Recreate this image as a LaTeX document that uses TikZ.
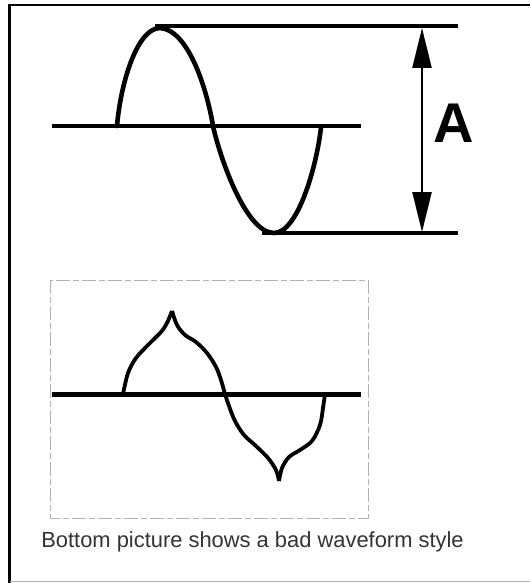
\documentclass[tikz,border=0pt]{standalone}
\usepackage{fontspec}
\setmainfont{Liberation Sans}
\usetikzlibrary{arrows.meta}
\begin{document}
\begin{tikzpicture}[x=1pt,y=-1pt,
  wave/.style={line width=4.6pt, line cap=round, line join=round},
  axisline/.style={line width=4.5pt},
  refline/.style={line width=4pt},
  badwave/.style={line width=3.8pt, line join=round},
  dimarrow/.style={line width=2.4pt, {Triangle[length=40pt,width=19pt]}-{Triangle[length=40pt,width=19pt]}},
  framebox/.style={draw=gray!60, line width=1pt, dash pattern=on 14pt off 3pt on 6pt off 3pt}
]
\useasboundingbox (0,0) rectangle (530,583);
% outer frame
\draw[line width=3pt] (9.5,4) -- (9.5,583);
\draw[line width=2pt] (8,5) -- (530,5);
\draw[line width=1.5pt, gray!60] (10,581.5) -- (530,581.5);

% ---- top picture ----
\coordinate (b1s) at (52,126);
\coordinate (b1e) at (361,126);
\draw[axisline] (b1s) -- (b1e);
\coordinate (tl1) at (155,26.5);
\coordinate (tl2) at (458,26.5);
\coordinate (bl1) at (262,233);
\coordinate (bl2) at (458,233);
\draw[refline] (tl1) -- (tl2);
\draw[refline] (bl1) -- (bl2);
\draw[wave] (117,126) .. controls (121,80) and (138,28) .. (160,28)
  .. controls (190,30) and (208,95) .. (213,126)
  .. controls (220,158) and (246,233) .. (274,233)
  .. controls (298,233) and (317,165) .. (321,127);
\coordinate (atop) at (422,28);
\coordinate (abot) at (422,232);
\draw[dimarrow] (atop) -- (abot);
\node[font=\bfseries\fontsize{56}{60}\selectfont, inner sep=0pt] (A) at (453.5,123) {A};

% ---- bottom picture ----
\draw[framebox] (50,280) rectangle (368,518);
\coordinate (b2s) at (52,394);
\coordinate (b2e) at (361,394);
\draw[line width=5pt] (b2s) -- (b2e);
\draw[badwave] plot[smooth, tension=0.55] coordinates {(123,394) (128,373) (136,358) (148,345) (161,332) (167,323) (172,311)};
\draw[badwave] plot[smooth, tension=0.55] coordinates {(172,311) (177,325) (185,335) (196,342) (207,353) (216,367) (221,380) (225,394) (229,406) (235,421) (244,435) (256,446) (268,458) (276,470) (279,481)};
\draw[badwave] plot[smooth, tension=0.55] coordinates {(279,481) (282,468) (289,457) (300,450) (312,441) (320,425) (323,408) (325,394)};

\node[font=\fontsize{21.9}{24}\selectfont, text=black!80, inner sep=0pt] (cap) at (252.5,542) {Bottom picture shows a bad waveform style};
\end{tikzpicture}
\end{document}
